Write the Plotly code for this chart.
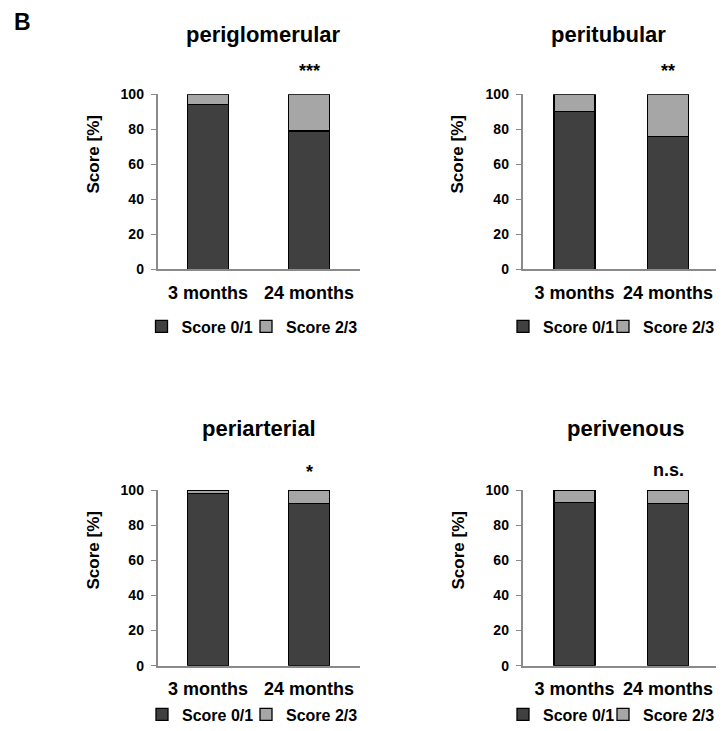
import plotly.graph_objects as go

# The page body has an 8px margin; the figure is sized so the page does not
# overflow the 724x731 window, and every screen position is shifted by OFF.
WIN_W, WIN_H, OFF = 724, 731, 8
W, H = WIN_W - OFF, WIN_H - 2 * OFF

categories = ["3 months", "24 months"]
panel_titles = ["periglomerular", "peritubular", "periarterial", "perivenous"]
significance = ["***", "**", "*", "n.s."]
score_01 = [[94, 79], [90, 76], [98, 92.5], [93, 92.5]]
score_23 = [[6, 21], [10, 24], [2, 7.5], [7, 7.5]]
series_names = ["Score 0/1", "Score 2/3"]
y_ticks = [0, 20, 40, 60, 80, 100]

DARK = "#404040"
LIGHT = "#a6a6a6"
AXIS = "#8a8a8a"
FONT = "Liberation Sans, Arial, sans-serif"


def px_x(v):
    return (v - OFF) / W


def px_y(v):
    return 1 - (v - OFF) / H


# panel geometry in screen pixels: (axis left, axis right, y of 0, y of 100)
panels = [
    (157.5, 359.5, 269.3, 94.3),
    (522.5, 724.0, 269.3, 94.3),
    (157.5, 359.5, 665.7, 490.0),
    (522.5, 724.0, 665.7, 490.0),
]
# category range and bar width (category units) of each panel
xranges = [[-0.5, 1.5], [-0.5545, 1.598], [-0.5, 1.5], [-0.5545, 1.598]]
bar_widths = [0.406, 0.438, 0.406, 0.438]
title_pos = [(263, 34), (608, 34), (259, 428), (625, 428)]
ytitle_pos = [(93.5, 155), (457.5, 155), (92.5, 551), (457.5, 551)]
sig_y = [71, 71, 471.5, 470]
# x where each legend text starts (two entries), y of legend centre
legend_pos = [((181.5, 286), 326.5), ((543, 643), 326.5),
              ((182, 286), 714.5), ((543, 643), 714.5)]
LEG_TEXT_OFFSET = 40

fig = go.Figure()
layout = dict(
    width=W, height=H, autosize=False,
    margin=dict(l=0, r=0, t=0, b=0, autoexpand=False),
    paper_bgcolor="white", plot_bgcolor="white",
    barmode="stack",
    font=dict(family=FONT, color="black", weight="bold"),
    annotations=[], showlegend=True,
)

leg_idx = 0
for i in range(4):
    sfx = "" if i == 0 else str(i + 1)
    xa, ya = "x" + sfx, "y" + sfx
    (tx1, tx2), ly = legend_pos[i]
    for k, (name, vals, col) in enumerate(
            ((series_names[0], score_01[i], DARK),
             (series_names[1], score_23[i], LIGHT))):
        leg_idx += 1
        leg = "legend" if leg_idx == 1 else "legend" + str(leg_idx)
        fig.add_trace(go.Bar(
            x=categories, y=vals, name=name, xaxis=xa, yaxis=ya, legend=leg,
            width=bar_widths[i],
            marker=dict(color=col, line=dict(color="black", width=1.3)),
            cliponaxis=False, hoverinfo="y+name",
        ))
        lx = (tx1, tx2)[k]
        layout[leg] = dict(
            orientation="h", x=px_x(lx - LEG_TEXT_OFFSET), y=px_y(ly),
            xanchor="left", yanchor="middle", itemwidth=30,
            bgcolor="rgba(0,0,0,0)",
            font=dict(size=16, family=FONT, color="black", weight="bold"),
        )
    l, r, y0, y100 = panels[i]
    layout["xaxis" + sfx] = dict(
        domain=[px_x(l), px_x(r)], anchor=ya, type="category",
        range=xranges[i], showline=True, linecolor=AXIS, linewidth=1.5,
        ticks="", showgrid=False, zeroline=False,
        tickfont=dict(size=18, family=FONT, color="black", weight="bold"),
        ticklabelstandoff=6,
    )
    layout["yaxis" + sfx] = dict(
        domain=[px_y(y0), px_y(y100)], anchor=xa, range=[0, 100],
        tickvals=y_ticks, showline=True, linecolor=AXIS, linewidth=1.5,
        ticks="outside", ticklen=5, tickcolor=AXIS, tickwidth=1.2,
        showgrid=False, zeroline=False,
        tickfont=dict(size=14, family=FONT, color="black", weight="bold"),
        ticklabelstandoff=4,
    )
    tx, ty = title_pos[i]
    layout["annotations"].append(dict(
        text=panel_titles[i], x=px_x(tx), y=px_y(ty), xref="paper",
        yref="paper", showarrow=False, xanchor="center", yanchor="middle",
        font=dict(size=22, family=FONT, color="black", weight="bold"),
    ))
    ax_, ay_ = ytitle_pos[i]
    layout["annotations"].append(dict(
        text="Score [%]", x=px_x(ax_), y=px_y(ay_), xref="paper",
        yref="paper", showarrow=False, textangle=-90, xanchor="center",
        yanchor="middle",
        font=dict(size=17, family=FONT, color="black", weight="bold"),
    ))
    layout["annotations"].append(dict(
        text=significance[i], x=categories[1], y=px_y(sig_y[i]), xref=xa,
        yref="paper", showarrow=False, xanchor="center", yanchor="middle",
        font=dict(size=18, family=FONT, color="black", weight="bold"),
    ))

layout["annotations"].append(dict(
    text="B", x=px_x(13), y=1.0, xref="paper", yref="paper",
    showarrow=False, xanchor="left", yanchor="top", borderpad=0,
    font=dict(size=23, family=FONT, color="black", weight="bold"),
))

fig.update_layout(**layout)
fig.write_html("out.html")
